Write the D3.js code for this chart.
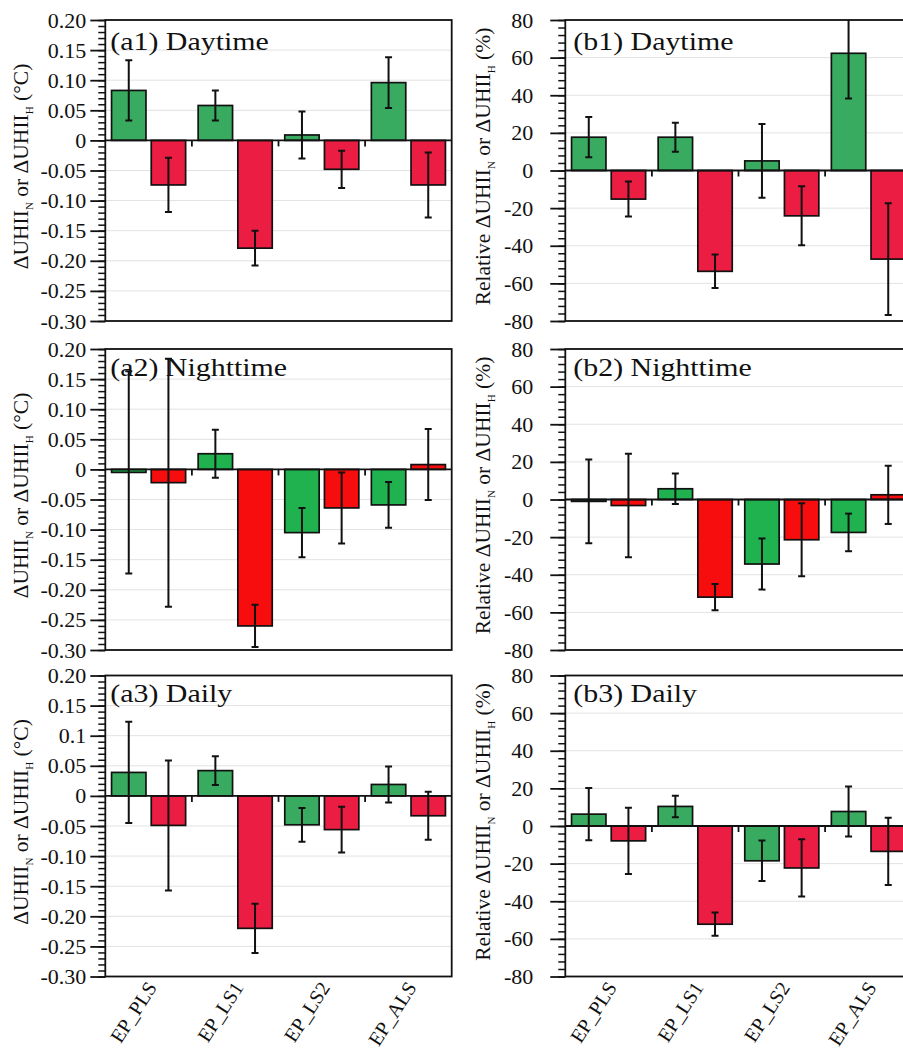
<!DOCTYPE html>
<html>
<head>
<meta charset="utf-8">
<script src="https://cdn.jsdelivr.net/npm/d3@7"></script>
<style>
  body { margin: 0; background: #fff; }
  svg { display: block; }
  text { font-family: "Liberation Serif", "Times New Roman", serif; fill: #111; }
</style>
</head>
<body>
<svg id="chart" width="903" height="1050"></svg>
<script>
// Categories and the two series (N: green, H: red)
const categories = ["EP_PLS", "EP_LS1", "EP_LS2", "EP_ALS"];
const series = ["N", "H"];

// Absolute change (°C)
const a1N = [0.083, 0.058, 0.009, 0.096];
const a1NErr = [0.050, 0.025, 0.039, 0.042];
const a1H = [-0.074, -0.179, -0.048, -0.074];
const a1HErr = [0.045, 0.029, 0.031, 0.054];

const a2N = [-0.005, 0.026, -0.105, -0.059];
const a2NErr = [0.168, 0.040, 0.041, 0.038];
const a2H = [-0.022, -0.260, -0.064, 0.008];
const a2HErr = [0.206, 0.035, 0.059, 0.059];

const a3N = [0.039, 0.042, -0.048, 0.019];
const a3NErr = [0.084, 0.024, 0.028, 0.030];
const a3H = [-0.049, -0.220, -0.056, -0.033];
const a3HErr = [0.108, 0.041, 0.038, 0.040];

// Relative change (%)
const b1N = [17.7, 17.7, 5.1, 62.3];
const b1NErr = [10.7, 7.7, 19.6, 24.0];
const b1H = [-15.2, -53.6, -24.1, -47.1];
const b1HErr = [9.3, 8.9, 15.7, 29.7];

const b2N = [-1.0, 5.7, -34.3, -17.5];
const b2NErr = [22.3, 8.1, 13.6, 10.0];
const b2H = [-3.2, -51.9, -21.4, 2.5];
const b2HErr = [27.5, 7.0, 19.4, 15.5];

const b3N = [6.3, 10.4, -18.5, 7.7];
const b3NErr = [13.9, 5.7, 10.8, 13.3];
const b3H = [-7.9, -52.2, -22.3, -13.5];
const b3HErr = [17.6, 6.2, 15.2, 17.9];

// Axis ticks
const ticksA = [0.20, 0.15, 0.10, 0.05, 0, -0.05, -0.10, -0.15, -0.20, -0.25, -0.30];
const tickLabelsA = ["0.20", "0.15", "0.10", "0.05", "0", "-0.05", "-0.10", "-0.15", "-0.20", "-0.25", "-0.30"];
const tickLabelsA3 = ["0.20", "0.15", "0.1", "0.05", "0", "-0.05", "-0.10", "-0.15", "-0.20", "-0.25", "-0.30"];
const ticksB = [80, 60, 40, 20, 0, -20, -40, -60, -80];
const tickLabelsB = ["80", "60", "40", "20", "0", "-20", "-40", "-60", "-80"];

const dayColors = { N: "#38ab60", H: "#eb1d42" };
const nightColors = { N: "#1fb24f", H: "#f70d0d" };

const panels = [
  { key: "a1", title: "(a1) Daytime", col: 0, row: 0, N: a1N, NErr: a1NErr, H: a1H, HErr: a1HErr, colors: dayColors },
  { key: "a2", title: "(a2) Nighttime", col: 0, row: 1, N: a2N, NErr: a2NErr, H: a2H, HErr: a2HErr, colors: nightColors },
  { key: "a3", title: "(a3) Daily", col: 0, row: 2, N: a3N, NErr: a3NErr, H: a3H, HErr: a3HErr, colors: dayColors },
  { key: "b1", title: "(b1) Daytime", col: 1, row: 0, N: b1N, NErr: b1NErr, H: b1H, HErr: b1HErr, colors: dayColors },
  { key: "b2", title: "(b2) Nighttime", col: 1, row: 1, N: b2N, NErr: b2NErr, H: b2H, HErr: b2HErr, colors: nightColors },
  { key: "b3", title: "(b3) Daily", col: 1, row: 2, N: b3N, NErr: b3NErr, H: b3H, HErr: b3HErr, colors: dayColors },
];

// Layout
const colLeft = [105.3, 565.3];
const rowTop = [20, 349, 675.5];
const titleBaseline = [30, 27, 26.5];
const plotW = 346.4;
const plotH = 301;

const svg = d3.select("#chart");

function yLabel(g, col, cx, cy) {
  const t = g.append("text")
    .attr("transform", `translate(${cx},${cy}) rotate(-90)`)
    .attr("text-anchor", "middle")
    .style("font-size", "21.5px");
  if (col === 1) t.append("tspan").text("Relative ");
  t.append("tspan").text("ΔUHII");
  t.append("tspan").text("N").attr("dy", 5).style("font-size", "11px");
  t.append("tspan").text(" or ΔUHII").attr("dy", -5);
  t.append("tspan").text("H").attr("dy", 5).style("font-size", "11px");
  t.append("tspan").text(col === 1 ? " (%)" : " (°C)").attr("dy", -5);
}

panels.forEach(p => {
  const x0 = colLeft[p.col];
  const y0 = rowTop[p.row];
  const isA = p.col === 0;
  const g = svg.append("g").attr("transform", `translate(${x0},${y0})`);

  const y = d3.scaleLinear().domain(isA ? [-0.30, 0.20] : [-80, 80]).range([plotH, 0]);
  const x = d3.scaleBand().domain(categories).range([0, plotW]).padding(0);
  const xs = d3.scaleBand().domain(series).range([0, x.bandwidth()])
    .paddingInner(0.133).paddingOuter(0.158);

  const ticks = isA ? ticksA : ticksB;
  const labels = isA ? (p.key === "a3" ? tickLabelsA3 : tickLabelsA) : tickLabelsB;

  const clipId = "clip-" + p.key;
  g.append("clipPath").attr("id", clipId)
    .append("rect").attr("x", 0).attr("y", 0).attr("width", plotW).attr("height", plotH);

  // Grid lines at major ticks
  g.append("g").selectAll("line").data(ticks.filter(t => t !== 0)).join("line")
    .attr("x1", 0).attr("x2", plotW)
    .attr("y1", d => y(d)).attr("y2", d => y(d))
    .attr("stroke", "#e2e2e2").attr("stroke-width", 1);

  // Bars
  const rows = [];
  categories.forEach((c, i) => {
    series.forEach(s => rows.push({ cat: c, s, v: p[s][i], e: p[s + "Err"][i] }));
  });

  const plot = g.append("g").attr("clip-path", `url(#${clipId})`);
  plot.selectAll("rect.bar").data(rows).join("rect")
    .attr("class", "bar")
    .attr("x", d => x(d.cat) + xs(d.s))
    .attr("width", xs.bandwidth())
    .attr("y", d => y(Math.max(0, d.v)))
    .attr("height", d => Math.abs(y(d.v) - y(0)))
    .attr("fill", d => p.colors[d.s])
    .attr("stroke", "#111").attr("stroke-width", 1.7);

  // Zero line with category separator ticks
  g.append("line").attr("x1", 0).attr("x2", plotW)
    .attr("y1", y(0)).attr("y2", y(0))
    .attr("stroke", "#111").attr("stroke-width", 1.8);
  g.append("g").selectAll("line").data(categories.slice(1)).join("line")
    .attr("x1", d => x(d)).attr("x2", d => x(d))
    .attr("y1", y(0)).attr("y2", y(0) + 6)
    .attr("stroke", "#111").attr("stroke-width", 1.8);

  // Panel title
  g.append("text")
    .attr("transform", `translate(${isA ? 5 : 8},${titleBaseline[p.row]}) scale(1.15,1)`)
    .style("font-size", "26px")
    .text(p.title);

  // Error bars
  const cap = 3.5;
  const eb = plot.append("g").selectAll("g").data(rows).join("g")
    .attr("transform", d => `translate(${x(d.cat) + xs(d.s) + xs.bandwidth() / 2},0)`);
  eb.append("line")
    .attr("y1", d => y(d.v + d.e)).attr("y2", d => y(d.v - d.e))
    .attr("stroke", "#111").attr("stroke-width", 2);
  eb.append("line")
    .attr("x1", -cap).attr("x2", cap)
    .attr("y1", d => y(d.v + d.e)).attr("y2", d => y(d.v + d.e))
    .attr("stroke", "#111").attr("stroke-width", 2);
  eb.append("line")
    .attr("x1", -cap).attr("x2", cap)
    .attr("y1", d => y(d.v - d.e)).attr("y2", d => y(d.v - d.e))
    .attr("stroke", "#111").attr("stroke-width", 2);

  // Frame
  g.append("rect").attr("x", 0).attr("y", 0).attr("width", plotW).attr("height", plotH)
    .attr("fill", "none").attr("stroke", "#111").attr("stroke-width", 1.8);

  // Y axis: minor ticks then major ticks with labels
  const step = isA ? 0.01 : 4;
  const lo = y.domain()[0], hi = y.domain()[1];
  const minor = d3.range(Math.round((hi - lo) / step) + 1).map(i => lo + i * step);
  g.append("g").call(d3.axisLeft(y).tickValues(minor).tickSize(7).tickFormat(""))
    .call(a => a.select(".domain").remove())
    .call(a => a.selectAll("line").attr("stroke", "#111").attr("stroke-width", 1.5));
  g.append("g").call(d3.axisLeft(y).tickValues(ticks).tickSize(15)
      .tickPadding(isA ? 4 : 17).tickFormat((d, i) => labels[i]))
    .call(a => a.select(".domain").remove())
    .call(a => a.selectAll("line").attr("stroke", "#111").attr("stroke-width", 1.8))
    .call(a => a.selectAll("text")
      .style("font-size", "22px")
      .style("font-family", '"Liberation Serif", "Times New Roman", serif')
      .attr("fill", "#111"));

  // Axis title
  yLabel(g, p.col, isA ? 28 - x0 : 490 - x0, plotH / 2 - 4);

  // Category labels on the bottom row
  if (p.row === 2) {
    g.append("g").selectAll("text").data(categories).join("text")
      .attr("transform", d => `translate(${x(d) + x.bandwidth() / 2 + 9},${plotH + 11}) rotate(-57)`)
      .attr("text-anchor", "end")
      .style("font-size", "20px")
      .text(d => d);
  }
});
</script>
</body>
</html>
